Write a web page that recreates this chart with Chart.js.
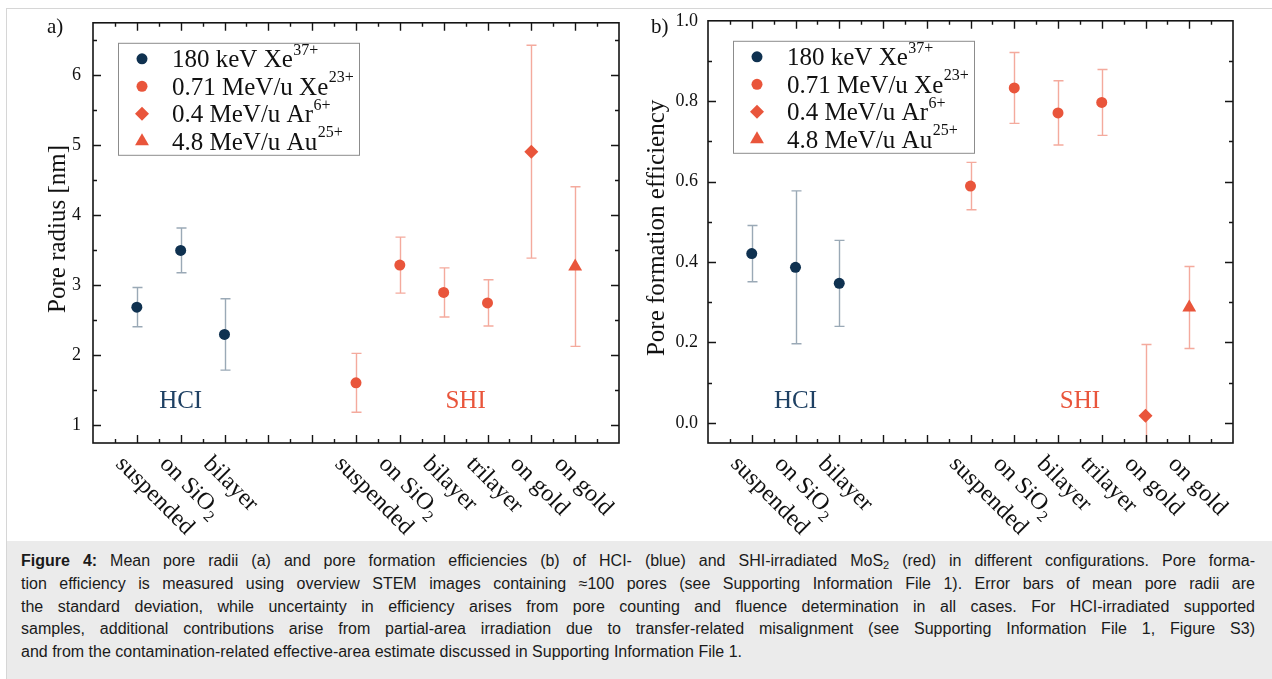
<!DOCTYPE html>
<html><head><meta charset="utf-8">
<script src="https://cdn.jsdelivr.net/npm/chart.js@4.4.0/dist/chart.umd.min.js"></script>
<style>
html,body{margin:0;padding:0;background:#fff;}
body{width:1272px;height:679px;position:relative;overflow:hidden;}
#border{position:absolute;left:6px;top:8px;right:-2px;bottom:-2px;border-left:1px solid #d6d6d6;border-top:1px solid #d6d6d6;}
#ca{position:absolute;left:0;top:0;}
#cb{position:absolute;left:640px;top:0;}
#caption{position:absolute;left:7px;top:541px;width:1265px;height:138px;background:#ebebeb;font-family:'Liberation Sans',Arial,Helvetica,sans-serif;font-size:16px;line-height:22.75px;color:#1a1a1a;box-sizing:border-box;padding:9px 0 0 14px;}
#caption div{width:1234px;white-space:nowrap;}
#caption div.j{text-align:justify;text-align-last:justify;white-space:normal;}
#caption sub{font-size:11px;vertical-align:-3px;line-height:0;}
</style></head>
<body>
<div id="border"></div>
<canvas id="ca" width="640" height="540"></canvas>
<canvas id="cb" width="632" height="540"></canvas>
<div id="caption">
<div class="j"><b>Figure 4:</b> Mean pore radii (a) and pore formation efficiencies (b) of HCI- (blue) and SHI-irradiated MoS<sub>2</sub> (red) in different configurations. Pore forma-</div>
<div class="j">tion efficiency is measured using overview STEM images containing ≈100 pores (see Supporting Information File 1). Error bars of mean pore radii are</div>
<div class="j">the standard deviation, while uncertainty in efficiency arises from pore counting and fluence determination in all cases. For HCI-irradiated supported</div>
<div class="j">samples, additional contributions arise from partial-area irradiation due to transfer-related misalignment (see Supporting Information File 1, Figure S3)</div>
<div>and from the contamination-related effective-area estimate discussed in Supporting Information File 1.</div>
</div>
<script>
// ---------- data ----------
const categoryLabels = ['suspended', 'on SiO|2', 'bilayer', 'suspended', 'on SiO|2', 'bilayer', 'trilayer', 'on gold', 'on gold'];
const categoryIndex = [0, 1, 2, 5, 6, 7, 8, 9, 10];
const hciIndex = [0, 1, 2];
const xeIndex = [5, 6, 7, 8];
const arIndex = [9];
const auIndex = [10];
const seriesNames = ['180 keV Xe', '0.71 MeV/u Xe', '0.4 MeV/u Ar', '4.8 MeV/u Au'];
const seriesCharges = ['37+', '23+', '6+', '25+'];

// panel a: pore radius [nm]
const radiusHCI = [2.69, 3.50, 2.30];
const radiusHCIErr = [0.28, 0.32, 0.51];
const radiusXe = [1.61, 3.29, 2.90, 2.75];
const radiusXeErr = [0.42, 0.40, 0.35, 0.33];
const radiusAr = [4.91];
const radiusArErr = [1.52];
const radiusAu = [3.27];
const radiusAuErr = [1.14];
const radiusTicks = [1, 2, 3, 4, 5, 6];

// panel b: pore formation efficiency
const effHCI = [0.421, 0.387, 0.347];
const effHCIErr = [0.070, 0.190, 0.107];
const effXe = [0.589, 0.833, 0.771, 0.797];
const effXeErr = [0.059, 0.088, 0.080, 0.082];
const effAr = [0.018];
const effArErr = [0.177];
const effAu = [0.287];
const effAuErr = [0.102];
const effTicks = [0.0, 0.2, 0.4, 0.6, 0.8, 1.0];

// ---------- style ----------
const SERIF = "'Liberation Serif','Times New Roman',Times,serif";
const NAVY = '#0f3150', ORANGE = '#e9553b';
const NAVY_TXT = '#1e4063';
const NAVY_ERR = 'rgba(15,49,80,0.42)', ORANGE_ERR = 'rgba(233,85,59,0.5)';

function ds(name, idx, vals, errs, color, errColor, style, radius) {
  return {
    label: name,
    data: idx.map((x, i) => ({x: x, y: vals[i]})),
    errs: errs, errColor: errColor,
    pointStyle: style, pointRadius: radius, pointHoverRadius: radius,
    backgroundColor: color, borderColor: color, borderWidth: 0, showLine: false
  };
}

function drawRich(ctx, x, y, main, sup, size) {
  ctx.font = size + 'px ' + SERIF;
  ctx.fillText(main, x, y);
  const w = ctx.measureText(main).width;
  ctx.font = Math.round(size * 0.64) + 'px ' + SERIF;
  ctx.fillText(sup, x + w + 0.5, y - size * 0.42);
}

function panelPlugin(p) {
  return {
    id: 'panel_' + p.tag,
    beforeDatasetsDraw(chart) {
      const {ctx, chartArea: a, scales: {x, y}} = chart;
      ctx.save();
      ctx.beginPath(); ctx.rect(a.left, a.top, a.right - a.left, a.bottom - a.top); ctx.clip();
      chart.data.datasets.forEach(d => {
        ctx.strokeStyle = d.errColor; ctx.lineWidth = 1.4;
        d.data.forEach((pt, i) => {
          const px = Math.round(x.getPixelForValue(pt.x)) + 0.5;
          const hi = y.getPixelForValue(pt.y + d.errs[i]);
          const lo = y.getPixelForValue(pt.y - d.errs[i]);
          ctx.beginPath();
          ctx.moveTo(px, hi); ctx.lineTo(px, lo);
          ctx.moveTo(px - 5, hi); ctx.lineTo(px + 5, hi);
          ctx.moveTo(px - 5, lo); ctx.lineTo(px + 5, lo);
          ctx.stroke();
        });
      });
      ctx.restore();
    },
    afterDatasetsDraw(chart) {
      const {ctx, chartArea: a, scales: {x, y}} = chart;
      ctx.save();
      // frame
      ctx.strokeStyle = '#151515'; ctx.lineWidth = 1.6;
      ctx.strokeRect(a.left, a.top, a.right - a.left, a.bottom - a.top);
      ctx.lineWidth = 1.4;
      // y ticks
      const k0 = Math.ceil(y.min / p.yMinor - 1e-6), k1 = Math.floor(y.max / p.yMinor + 1e-6);
      for (let k = k0; k <= k1; k++) {
        const v = k * p.yMinor;
        const major = Math.abs(v / p.yMajor - Math.round(v / p.yMajor)) < 1e-6;
        const L = major ? 8 : 4;
        const py = Math.round(y.getPixelForValue(v)) + 0.5;
        if (py <= a.top + 1 || py >= a.bottom - 1) continue;
        ctx.beginPath();
        ctx.moveTo(a.left, py); ctx.lineTo(a.left + L, py);
        ctx.moveTo(a.right, py); ctx.lineTo(a.right - L, py);
        ctx.stroke();
      }
      // x ticks
      for (let k = Math.ceil(x.min * 2); k <= Math.floor(x.max * 2); k++) {
        const v = k / 2;
        if (v <= x.min || v >= x.max) continue;
        const L = (k % 2 === 0) ? 8 : 4;
        const px = Math.round(x.getPixelForValue(v)) + 0.5;
        ctx.beginPath();
        ctx.moveTo(px, a.bottom); ctx.lineTo(px, a.bottom - L);
        ctx.moveTo(px, a.top); ctx.lineTo(px, a.top + L);
        ctx.stroke();
      }
      // category labels (rotated)
      ctx.fillStyle = '#111';
      categoryIndex.forEach((ci, i) => {
        const px = x.getPixelForValue(ci);
        const parts = categoryLabels[i].split('|');
        ctx.save();
        ctx.translate(px - 22, a.bottom + 22);
        ctx.rotate(Math.PI / 4);
        ctx.textAlign = 'left'; ctx.textBaseline = 'alphabetic';
        ctx.font = '24px ' + SERIF;
        ctx.fillText(parts[0], 0, 0);
        if (parts[1]) {
          const w = ctx.measureText(parts[0]).width;
          ctx.font = '16px ' + SERIF;
          ctx.fillText(parts[1], w + 0.5, 6);
        }
        ctx.restore();
      });
      // axis title
      ctx.save();
      ctx.translate(p.titleX, (a.top + a.bottom) / 2 - 4);
      ctx.rotate(-Math.PI / 2);
      ctx.textAlign = 'center'; ctx.textBaseline = 'middle';
      ctx.font = '25px ' + SERIF; ctx.fillStyle = '#111';
      ctx.fillText(p.title, 0, 0);
      ctx.restore();
      // panel letter
      ctx.font = '21px ' + SERIF; ctx.fillStyle = '#111';
      ctx.textAlign = 'left'; ctx.textBaseline = 'middle';
      ctx.fillText(p.letter, p.letterX, 27);
      // group labels
      ctx.font = '25px ' + SERIF; ctx.textAlign = 'center'; ctx.textBaseline = 'middle';
      ctx.fillStyle = NAVY_TXT;
      ctx.fillText('HCI', x.getPixelForValue(1), a.bottom - 42);
      ctx.fillStyle = ORANGE;
      ctx.fillText('SHI', x.getPixelForValue(7.5), a.bottom - 42);
      // legend
      const bx = a.left + 25, by = a.top + 20, bw = 241, bh = 112;
      ctx.fillStyle = '#fff'; ctx.fillRect(bx, by, bw, bh);
      ctx.strokeStyle = '#8c8c8c'; ctx.lineWidth = 1;
      ctx.strokeRect(bx + 0.5, by + 0.5, bw, bh);
      chart.data.datasets.forEach((d, i) => {
        const ry = by + 16 + 27.5 * i;
        ctx.fillStyle = d.backgroundColor;
        Chart.helpers.drawPoint(ctx, {pointStyle: d.pointStyle, radius: d.pointRadius, rotation: 0, borderWidth: 0}, bx + 24, ry);
        ctx.fillStyle = '#111'; ctx.textAlign = 'left'; ctx.textBaseline = 'middle';
        drawRich(ctx, bx + 54, ry + 2, seriesNames[i], seriesCharges[i], 25);
      });
      ctx.restore();
    }
  };
}

function makePanel(id, p) {
  const datasets = [
    ds(seriesNames[0], hciIndex, p.hci, p.hciErr, NAVY, NAVY_ERR, 'circle', 5.5),
    ds(seriesNames[1], xeIndex, p.xe, p.xeErr, ORANGE, ORANGE_ERR, 'circle', 5.5),
    ds(seriesNames[2], arIndex, p.ar, p.arErr, ORANGE, ORANGE_ERR, 'rectRot', 7),
    ds(seriesNames[3], auIndex, p.au, p.auErr, ORANGE, ORANGE_ERR, 'triangle', 8)
  ];
  return new Chart(document.getElementById(id), {
    type: 'scatter',
    data: {datasets},
    options: {
      responsive: false, animation: false, devicePixelRatio: 1,
      layout: {padding: {left: 0, top: 20, right: p.padRight, bottom: 97}},
      plugins: {legend: {display: false}, tooltip: {enabled: false}},
      scales: {
        x: {type: 'linear', min: -1, max: 11, display: false},
        y: {
          type: 'linear', min: p.yMin, max: p.yMax, position: 'left',
          grid: {display: false, drawTicks: false}, border: {display: false},
          afterBuildTicks: s => { s.ticks = p.ticks.map(v => ({value: v})); },
          afterFit: s => { s.width = p.axisWidth; },
          ticks: {
            padding: p.tickPad, color: '#111',
            font: {family: SERIF, size: 18},
            callback: v => p.fmt(v)
          }
        }
      }
    },
    plugins: [panelPlugin(p)]
  });
}

makePanel('ca', {
  tag: 'a', hci: radiusHCI, hciErr: radiusHCIErr, xe: radiusXe, xeErr: radiusXeErr,
  ar: radiusAr, arErr: radiusArErr, au: radiusAu, auErr: radiusAuErr,
  ticks: radiusTicks, yMin: 0.75, yMax: 6.75, yMajor: 1, yMinor: 0.5,
  fmt: v => String(v), axisWidth: 93, padRight: 21, tickPad: 12,
  title: 'Pore radius [nm]', titleX: 58, letter: 'a)', letterX: 47
});
makePanel('cb', {
  tag: 'b', hci: effHCI, hciErr: effHCIErr, xe: effXe, xeErr: effXeErr,
  ar: effAr, arErr: effArErr, au: effAu, auErr: effAuErr,
  ticks: effTicks, yMin: -0.05, yMax: 1.0, yMajor: 0.2, yMinor: 0.1,
  fmt: v => v.toFixed(1), axisWidth: 68, padRight: 39, tickPad: 10,
  title: 'Pore formation efficiency', titleX: 17, letter: 'b)', letterX: 11
});
</script>
</body></html>
